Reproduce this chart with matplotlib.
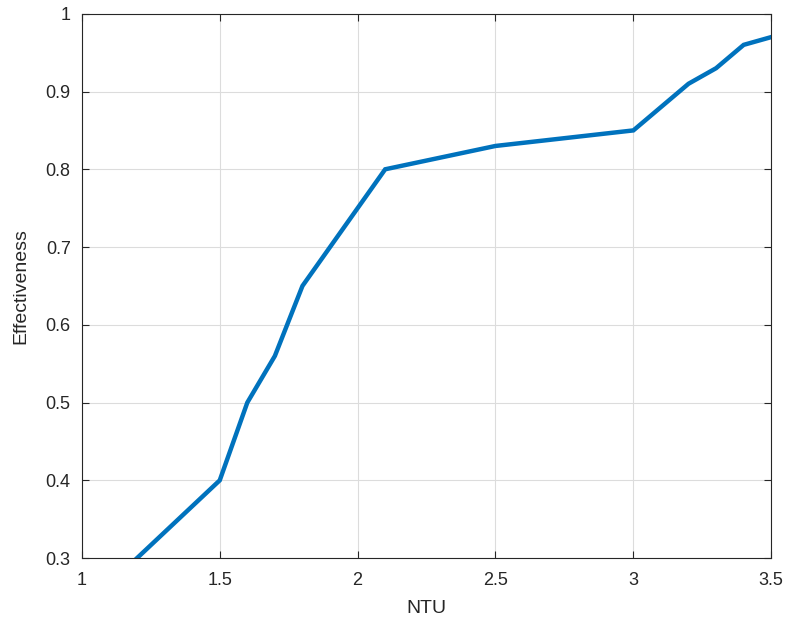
import matplotlib
matplotlib.use('Agg')
import matplotlib.pyplot as plt

ntu = [1.2, 1.5, 1.6, 1.7, 1.8, 2.1, 2.5, 3.0, 3.2, 3.3, 3.4, 3.5]
eff = [0.30, 0.40, 0.50, 0.56, 0.65, 0.80, 0.83, 0.85, 0.91, 0.93, 0.96, 0.97]

xticks = [1, 1.5, 2, 2.5, 3, 3.5]
xtick_labels = ['1', '1.5', '2', '2.5', '3', '3.5']
yticks = [0.3, 0.4, 0.5, 0.6, 0.7, 0.8, 0.9, 1.0]
ytick_labels = ['0.3', '0.4', '0.5', '0.6', '0.7', '0.8', '0.9', '1']

plt.rcParams['font.family'] = ['Liberation Sans', 'DejaVu Sans']

fig = plt.figure(figsize=(7.87, 6.25), dpi=100)
ax = fig.add_axes([0.104, 0.107, 0.876, 0.871])

ax.plot(ntu, eff, color='#0072BD', linewidth=3.2, solid_joinstyle='miter')

ax.set_xlim(1, 3.5)
ax.set_ylim(0.3, 1)
ax.set_xticks(xticks)
ax.set_xticklabels(xtick_labels)
ax.set_yticks(yticks)
ax.set_yticklabels(ytick_labels)
ax.grid(True, color='#dcdcdc', linewidth=0.8)
ax.set_axisbelow(True)
ax.tick_params(direction='in', length=5, width=0.8, colors='#262626',
               labelsize=13, top=True, right=True)
ax.tick_params(axis='x', pad=10)
ax.tick_params(axis='y', pad=8)
for s in ax.spines.values():
    s.set_color('#262626')
    s.set_linewidth(0.8)

ax.set_xlabel('NTU', fontsize=14, color='#262626', labelpad=8)
ax.set_ylabel('Effectiveness', fontsize=14, color='#262626', labelpad=12)

fig.savefig('out.png', dpi=100)
